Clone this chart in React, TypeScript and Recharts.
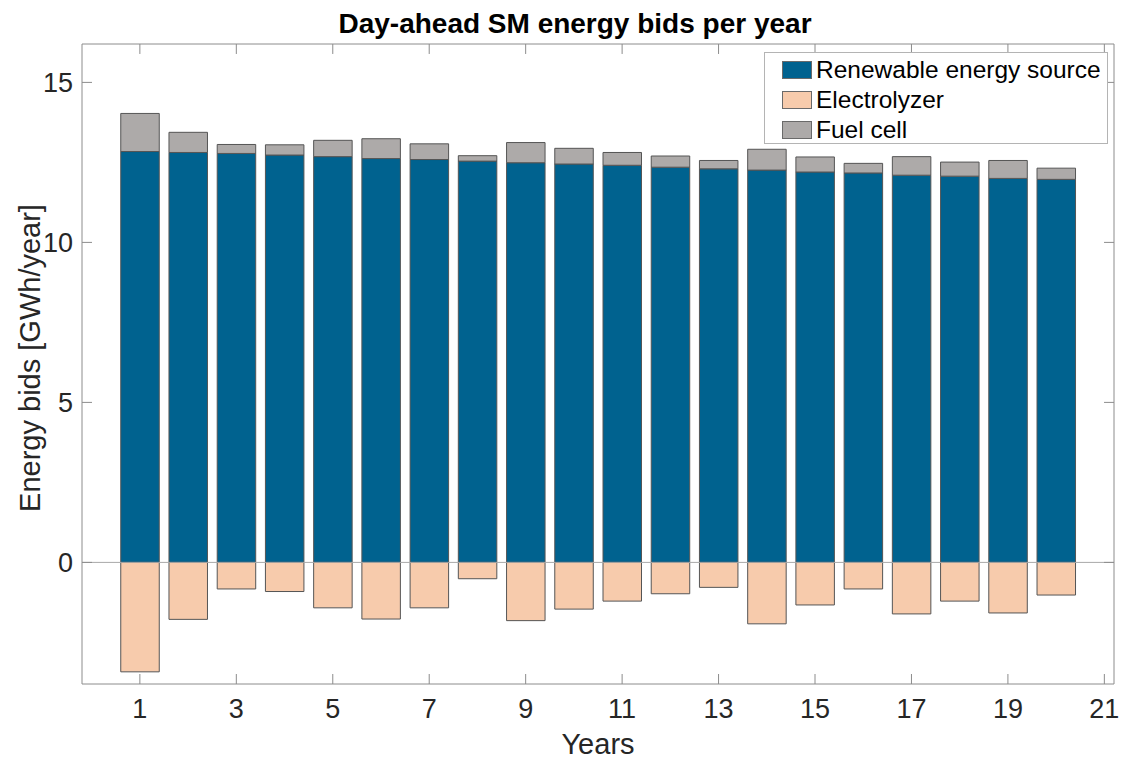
import React from 'react';
import { BarChart, Bar, XAxis, YAxis, ReferenceLine, Legend } from 'recharts';

const years = [1, 2, 3, 4, 5, 6, 7, 8, 9, 10, 11, 12, 13, 14, 15, 16, 17, 18, 19, 20];
const renewable = [12.84, 12.81, 12.78, 12.73, 12.68, 12.62, 12.59, 12.54, 12.49, 12.45, 12.41, 12.35, 12.3, 12.26, 12.2, 12.17, 12.1, 12.07, 12.0, 11.97];
const electrolyzer = [-3.42, -1.78, -0.83, -0.91, -1.42, -1.77, -1.42, -0.51, -1.82, -1.46, -1.21, -0.98, -0.78, -1.92, -1.33, -0.83, -1.61, -1.21, -1.58, -1.02];
const fuelCell = [1.19, 0.63, 0.28, 0.32, 0.51, 0.62, 0.49, 0.17, 0.63, 0.49, 0.4, 0.35, 0.26, 0.65, 0.47, 0.3, 0.58, 0.44, 0.56, 0.35];

const xTicks = [1, 3, 5, 7, 9, 11, 13, 15, 17, 19, 21];
const yTicks = [0, 5, 10, 15];

const series = [
  { key: 'res', name: 'Renewable energy source', color: '#00628f' },
  { key: 'ely', name: 'Electrolyzer', color: '#f7cbac' },
  { key: 'fc', name: 'Fuel cell', color: '#adaaa9' },
];

const data = years.map((y, i) => ({ year: y, res: renewable[i], ely: electrolyzer[i], fc: fuelCell[i] }));

const X_DOMAIN = [-0.2, 21.2];
const Y_DOMAIN = [-3.8, 16.2];
// inward tick length of the box ticks, in data units (about 10px)
const X_TICK_LEN = 0.207;
const Y_TICK_LEN = 0.312;

const FONT = '"Liberation Sans", Arial, Helvetica, sans-serif';
const AXIS = '#8c8c8c';
const TEXT = '#262626';

const BottomTick = (props: any) => {
  const { x, y, payload } = props;
  return (
    <g>
      <line x1={x} x2={x} y1={y} y2={y - 10} stroke={AXIS} />
      <text x={x} y={y + 34} textAnchor="middle" fontSize={27} fontFamily={FONT} fill={TEXT}>
        {payload.value}
      </text>
    </g>
  );
};

const LeftTick = (props: any) => {
  const { x, y, payload } = props;
  return (
    <g>
      <line x1={x} x2={x + 10} y1={y} y2={y} stroke={AXIS} />
      <text x={x - 9} y={y + 9.5} textAnchor="end" fontSize={27} fontFamily={FONT} fill={TEXT}>
        {payload.value}
      </text>
    </g>
  );
};

const LegendBox = () => (
  <div
    style={{
      width: 342,
      height: 90,
      border: '1px solid #b4b4b4',
      background: '#fff',
      fontFamily: FONT,
      fontSize: 24.5,
      color: '#000',
      position: 'relative',
    }}
  >
    {series.map((s, i) => (
      <div key={s.key} style={{ position: 'absolute', left: 17, top: 2 + i * 30, height: 30, display: 'flex', alignItems: 'center' }}>
        <span style={{ display: 'inline-block', width: 30, height: 18, background: s.color, border: '1px solid #6a6a6a', boxSizing: 'border-box', marginRight: 4 }} />
        <span style={{ lineHeight: '30px', whiteSpace: 'nowrap' }}>{s.name}</span>
      </div>
    ))}
  </div>
);

export default function App() {
  const top = Y_DOMAIN[1];
  const right = X_DOMAIN[1];
  return (
    <div style={{ position: 'absolute', left: 0, top: 0, background: '#fff' }}>
      <BarChart
        width={1129}
        height={762}
        data={data}
        stackOffset="sign"
        barSize={38.5}
        margin={{ top: 44, right: 15, bottom: 0, left: 0 }}
      >
        <XAxis
          dataKey="year"
          type="number"
          domain={X_DOMAIN}
          ticks={xTicks}
          allowDataOverflow
          height={78}
          tickSize={0}
          tickMargin={0}
          tick={<BottomTick />}
          axisLine={{ stroke: AXIS }}
          tickLine={false}
          label={() => (
            <text x={598} y={754} textAnchor="middle" fontSize={29} fontFamily={FONT} fill={TEXT}>
              Years
            </text>
          )}
        />
        <YAxis
          type="number"
          domain={Y_DOMAIN}
          ticks={yTicks}
          allowDataOverflow
          width={82}
          tickSize={0}
          tickMargin={0}
          tick={<LeftTick />}
          axisLine={{ stroke: AXIS }}
          tickLine={false}
          label={() => (
            <text
              x={40}
              y={358}
              transform="rotate(-90 40 358)"
              textAnchor="middle"
              fontSize={29}
              fontFamily={FONT}
              fill={TEXT}
            >
              Energy bids [GWh/year]
            </text>
          )}
        />
        <Legend
          layout="vertical"
          align="center"
          verticalAlign="middle"
          wrapperStyle={{ left: 764, top: 52, width: 344 }}
          content={() => <LegendBox />}
        />
        {series.map((s) => (
          <Bar
            key={s.key}
            dataKey={s.key}
            name={s.name}
            stackId="bids"
            fill={s.color}
            stroke="#555555"
            strokeWidth={1}
            isAnimationActive={false}
          />
        ))}
        <ReferenceLine y={0} stroke="#a8a8a8" strokeWidth={1} />

        {/* box: top and right edges with inward ticks */}
        <ReferenceLine
          y={top}
          stroke={AXIS}
          ifOverflow="visible"
          label={() => (
            <text x={575} y={33} textAnchor="middle" fontSize={28} fontWeight="bold" fontFamily={FONT} fill="#000">
              Day-ahead SM energy bids per year
            </text>
          )}
        />
        <ReferenceLine x={right} stroke={AXIS} ifOverflow="visible" />
        {xTicks.map((t) => (
          <ReferenceLine
            key={`tx${t}`}
            segment={[{ x: t, y: top }, { x: t, y: top - Y_TICK_LEN }]}
            stroke={AXIS}
            ifOverflow="visible"
          />
        ))}
        {yTicks.map((t) => (
          <ReferenceLine
            key={`ty${t}`}
            segment={[{ x: right, y: t }, { x: right - X_TICK_LEN, y: t }]}
            stroke={AXIS}
            ifOverflow="visible"
          />
        ))}
      </BarChart>
    </div>
  );
}
